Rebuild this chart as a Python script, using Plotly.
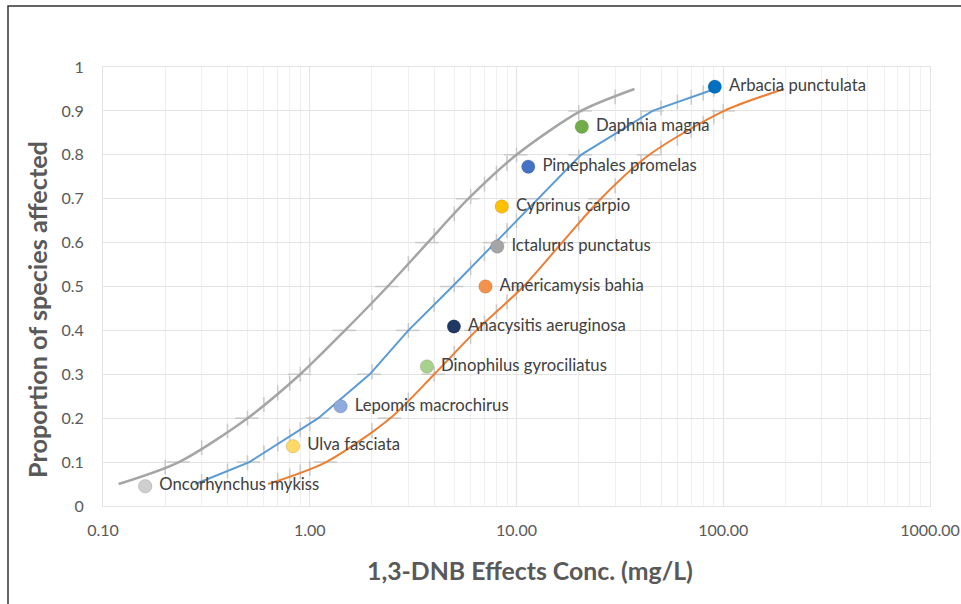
import numpy as np
import plotly.graph_objects as go

# ---- data ----
species = ["Oncorhynchus mykiss", "Ulva fasciata", "Lepomis macrochirus",
           "Dinophilus gyrociliatus", "Anacysitis aeruginosa", "Americamysis bahia",
           "Ictalurus punctatus", "Cyprinus carpio", "Pimephales promelas",
           "Daphnia magna", "Arbacia punctulata"]
species_conc = [0.16, 0.83, 1.41, 3.69, 4.98, 7.08, 8.07, 8.49, 11.4, 20.7, 91.0]
species_prop = [0.045, 0.136, 0.227, 0.318, 0.409, 0.5, 0.591, 0.682, 0.773, 0.864, 0.955]
species_colors = ["#cfcfcf", "#ffd966", "#8faadc", "#a9d18e", "#1f3864", "#f4914a",
                  "#a5a5a5", "#ffc000", "#4472c4", "#70ad47", "#0070c0"]

curve_prop = [0.05, 0.1, 0.2, 0.3, 0.4, 0.5, 0.6, 0.7, 0.8, 0.9, 0.95]
lower_conc = [0.119, 0.233, 0.50, 0.90, 1.48, 2.38, 3.72, 5.85, 10.0, 20.5, 37.2]
fit_conc = [0.28, 0.51, 1.1, 1.95, 3.0, 4.9, 7.9, 12.7, 20.5, 45.5, 91.0]
upper_conc = [0.629, 1.2, 2.45, 4.0, 6.4, 10.8, 16.6, 25.6, 43.9, 101.0, 197.0]

x_tickvals = [0.1, 1, 10, 100, 1000]
x_ticktext = ["0.10", "1.00", "10.00", "100.00", "1000.00"]
y_tickvals = [0, 0.1, 0.2, 0.3, 0.4, 0.5, 0.6, 0.7, 0.8, 0.9, 1]
y_ticktext = ["0", "0.1", "0.2", "0.3", "0.4", "0.5", "0.6", "0.7", "0.8", "0.9", "1"]

FONT = "Lato"
W, H = 961, 604
L, R, T, B = 103, 31, 67, 98

fig = go.Figure()

# darker gridline segments where the curves cross the grid (visual effect)
def grid_marks(xs, ys):
    lx = np.log10(xs)
    ys = np.asarray(ys)
    vx, vy, hx, hy = [], [], [], []
    for d in range(-1, 3):
        for k in range(1, 10):
            g = k * 10.0 ** d
            lg = np.log10(g)
            if lx[0] <= lg <= lx[-1]:
                vx.append(g); vy.append(float(np.interp(lg, lx, ys)))
    for g in y_tickvals:
        if ys[0] <= g <= ys[-1]:
            hx.append(10 ** float(np.interp(g, ys, lx))); hy.append(g)
    return vx, vy, hx, hy

for cx in (lower_conc, fit_conc, upper_conc):
    vx, vy, hx, hy = grid_marks(cx, curve_prop)
    fig.add_trace(go.Scatter(x=vx, y=vy, mode="markers", marker=dict(size=1, opacity=0),
                             error_y=dict(type="constant", value=0.017, color="#c9c9c9",
                                          thickness=1.5, width=0),
                             hoverinfo="skip", showlegend=False))
    fig.add_trace(go.Scatter(x=hx, y=hy, mode="markers", marker=dict(size=1, opacity=0),
                             error_x=dict(type="percent", value=13, color="#c9c9c9",
                                          thickness=1.5, width=0),
                             hoverinfo="skip", showlegend=False))

fig.add_trace(go.Scatter(x=lower_conc, y=curve_prop, mode="lines",
                         line=dict(color="#a5a5a5", width=2.5, shape="spline", smoothing=0.8),
                         showlegend=False))
fig.add_trace(go.Scatter(x=fit_conc, y=curve_prop, mode="lines",
                         line=dict(color="#5b9bd5", width=2), showlegend=False))
fig.add_trace(go.Scatter(x=upper_conc, y=curve_prop, mode="lines",
                         line=dict(color="#ed7d31", width=2, shape="spline", smoothing=0.8),
                         showlegend=False))

# labels (invisible larger markers give the text its offset)
fig.add_trace(go.Scatter(x=species_conc, y=species_prop, mode="text+markers",
                         text=species, textposition="middle right",
                         textfont=dict(family=FONT, size=16.7, color="#404040"),
                         marker=dict(size=21, opacity=0),
                         hoverinfo="skip", showlegend=False))
fig.add_trace(go.Scatter(x=species_conc, y=species_prop, mode="markers",
                         marker=dict(size=13.5, color=species_colors,
                                     line=dict(color="rgba(0,0,0,0.12)", width=1)),
                         showlegend=False))

grid = "#e4e4e4"
fig.update_xaxes(type="log", range=[-1, 3], tickvals=x_tickvals, ticktext=x_ticktext,
                 showgrid=True, gridcolor=grid, gridwidth=1,
                 minor=dict(showgrid=True, gridcolor="#efefef", dtick="D1"),
                 showline=True, linecolor=grid, mirror=True, zeroline=False,
                 tickfont=dict(family=FONT, size=16, color="#595959"),
                 ticks="", ticklabelstandoff=10, automargin=False)
fig.update_yaxes(range=[0, 1], tickvals=y_tickvals, ticktext=y_ticktext,
                 showgrid=True, gridcolor=grid, gridwidth=1,
                 showline=True, linecolor=grid, mirror=True, zeroline=False,
                 tickfont=dict(family=FONT, size=16, color="#595959"),
                 ticks="", ticklabelstandoff=15, automargin=False)

pw, ph = W - L - R, H - T - B
def px2paper(x, y):
    return (x - L) / pw, (H - B - y) / ph

ax, ay = px2paper(530, 570)
fig.add_annotation(x=ax, y=ay, xref="paper", yref="paper", showarrow=False,
                   xanchor="center", yanchor="middle",
                   text="<b>1,3-DNB Effects Conc. (mg/L)</b>",
                   font=dict(family=FONT, size=24.8, color="#595959"))
ax, ay = px2paper(37, 310)
fig.add_annotation(x=ax, y=ay, xref="paper", yref="paper", showarrow=False,
                   xanchor="center", yanchor="middle",
                   text="<b>Proportion of species affected</b>", textangle=-90,
                   font=dict(family=FONT, size=25.2, color="#595959"))

x0, y1 = px2paper(8, 6)
x1, y0 = px2paper(1000, 640)
fig.add_shape(type="rect", xref="paper", yref="paper", x0=x0, x1=x1, y0=y0, y1=y1,
              line=dict(color="#333333", width=1.5), layer="above")

fig.update_layout(width=W, height=H, margin=dict(l=L, r=R, t=T, b=B, autoexpand=False),
                  plot_bgcolor="white", paper_bgcolor="white")

fig.write_html("out.html", config={"displayModeBar": False},
               post_script="document.body.style.margin='0px';")
